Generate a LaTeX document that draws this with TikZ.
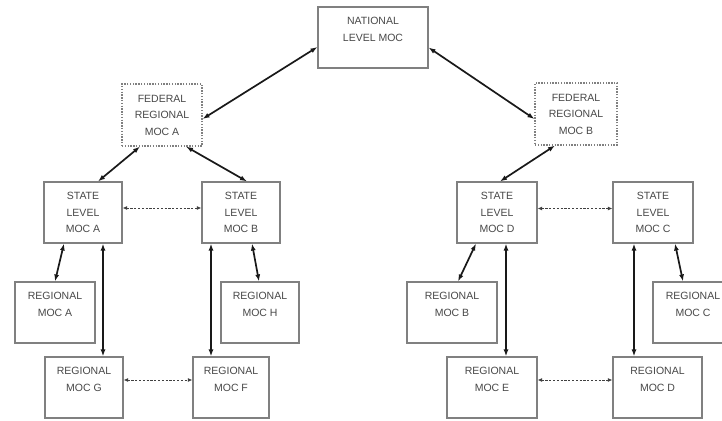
\documentclass[tikz,border=0pt]{standalone}
\usepackage{fontspec}
\setmainfont{Liberation Sans}
\usetikzlibrary{arrows.meta,calc}
\definecolor{boxgray}{HTML}{808080}
\definecolor{txtgray}{HTML}{484848}
\tikzset{
  x=1pt, y=-1pt,
  mocbox/.style={draw=boxgray, line width=1.1pt, fill=white, inner sep=0pt,
    align=center, text=txtgray, font=\fontsize{10.5}{16.5}\selectfont},
  fedbox/.style={mocbox, dash pattern=on 1.4pt off 1.4pt},
  link/.style={line width=1.7pt, draw=black!90,
    {Latex[length=7pt,width=5pt]}-{Latex[length=7pt,width=5pt]}},
  peer/.style={line width=1pt, draw=black!75, dash pattern=on 2.2pt off 1.6pt,
    {Latex[length=4.5pt,width=4pt]}-{Latex[length=4.5pt,width=4pt]}}
}
\begin{document}
\begin{tikzpicture}
\useasboundingbox (0,0) rectangle (722,420);
\clip (0,0) rectangle (722,420);
\fill[white] (0,0) rectangle (722,420);

\node[mocbox, minimum width=110pt, minimum height=61pt] (nat) at (373,37.5) {NATIONAL\\LEVEL MOC\\\phantom{X}};
\node[fedbox, minimum width=80pt, minimum height=62pt] (fedA) at (162,115) {FEDERAL\\REGIONAL\\MOC A};
\node[fedbox, minimum width=82pt, minimum height=62pt] (fedB) at (576,114) {FEDERAL\\REGIONAL\\MOC B};

\node[mocbox, minimum width=78pt, minimum height=61pt] (stA) at (83,212.5) {STATE\\LEVEL\\MOC A};
\node[mocbox, minimum width=78pt, minimum height=61pt] (stB) at (241,212.5) {STATE\\LEVEL\\MOC B};
\node[mocbox, minimum width=80pt, minimum height=61pt] (stD) at (497,212.5) {STATE\\LEVEL\\MOC D};
\node[mocbox, minimum width=80pt, minimum height=61pt] (stC) at (653,212.5) {STATE\\LEVEL\\MOC C};

\node[mocbox, minimum width=80pt, minimum height=61pt] (rA) at (55,312.5) {REGIONAL\\MOC A\\\phantom{X}};
\node[mocbox, minimum width=78pt, minimum height=61pt] (rH) at (260,312.5) {REGIONAL\\MOC H\\\phantom{X}};
\node[mocbox, minimum width=78pt, minimum height=61pt] (rG) at (84,387.5) {REGIONAL\\MOC G\\\phantom{X}};
\node[mocbox, minimum width=76pt, minimum height=61pt] (rF) at (231,387.5) {REGIONAL\\MOC F\\\phantom{X}};
\node[mocbox, minimum width=90pt, minimum height=61pt] (rB) at (452,312.5) {REGIONAL\\MOC B\\\phantom{X}};
\node[mocbox, minimum width=80pt, minimum height=61pt] (rC) at (693,312.5) {REGIONAL\\MOC C\\\phantom{X}};
\node[mocbox, minimum width=90pt, minimum height=61pt] (rE) at (492,387.5) {REGIONAL\\MOC E\\\phantom{X}};
\node[mocbox, minimum width=89pt, minimum height=61pt] (rD) at (657.5,387.5) {REGIONAL\\MOC D\\\phantom{X}};

% solid links
\draw[link] ($(nat.west)+(0,9.5)$) -- ($(fedA.east)+(0,4)$);
\draw[link] ($(nat.east)+(0,10)$) -- ($(fedB.west)+(0,5)$);
\draw[link] ($(fedA.south)+(-22,0)$) -- ($(stA.north)+(15,0)$);
\draw[link] ($(fedA.south)+(24,0)$) -- ($(stB.north)+(6,0)$);
\draw[link] ($(fedB.south)+(-21,0)$) -- ($(stD.north)+(3,0)$);
\draw[link] ($(stA.south)+(-19,0)$) -- (rA.north);
\draw[link] ($(stA.south)+(20,0)$) -- ($(rG.north)+(19,0)$);
\draw[link] ($(stB.south)+(-30,0)$) -- ($(rF.north)+(-20,0)$);
\draw[link] ($(stB.south)+(11,0)$) -- ($(rH.north)+(-1,0)$);
\draw[link] ($(stD.south)+(-21,0)$) -- ($(rB.north)+(6,0)$);
\draw[link] ($(stD.south)+(9,0)$) -- ($(rE.north)+(14,0)$);
\draw[link] ($(stC.south)+(-19,0)$) -- ($(rD.north)+(-23.5,0)$);
\draw[link] ($(stC.south)+(22,0)$) -- ($(rC.north)+(-10,0)$);

% dotted peer links
\draw[peer] ($(stA.east)+(0,-4.5)$) -- ($(stB.west)+(0,-4.5)$);
\draw[peer] ($(stD.east)+(0,-4)$) -- ($(stC.west)+(0,-4)$);
\draw[peer] ($(rG.east)+(0,-7.5)$) -- ($(rF.west)+(0,-7.5)$);
\draw[peer] ($(rE.east)+(0,-7.5)$) -- ($(rD.west)+(0,-7.5)$);
\end{tikzpicture}
\end{document}
